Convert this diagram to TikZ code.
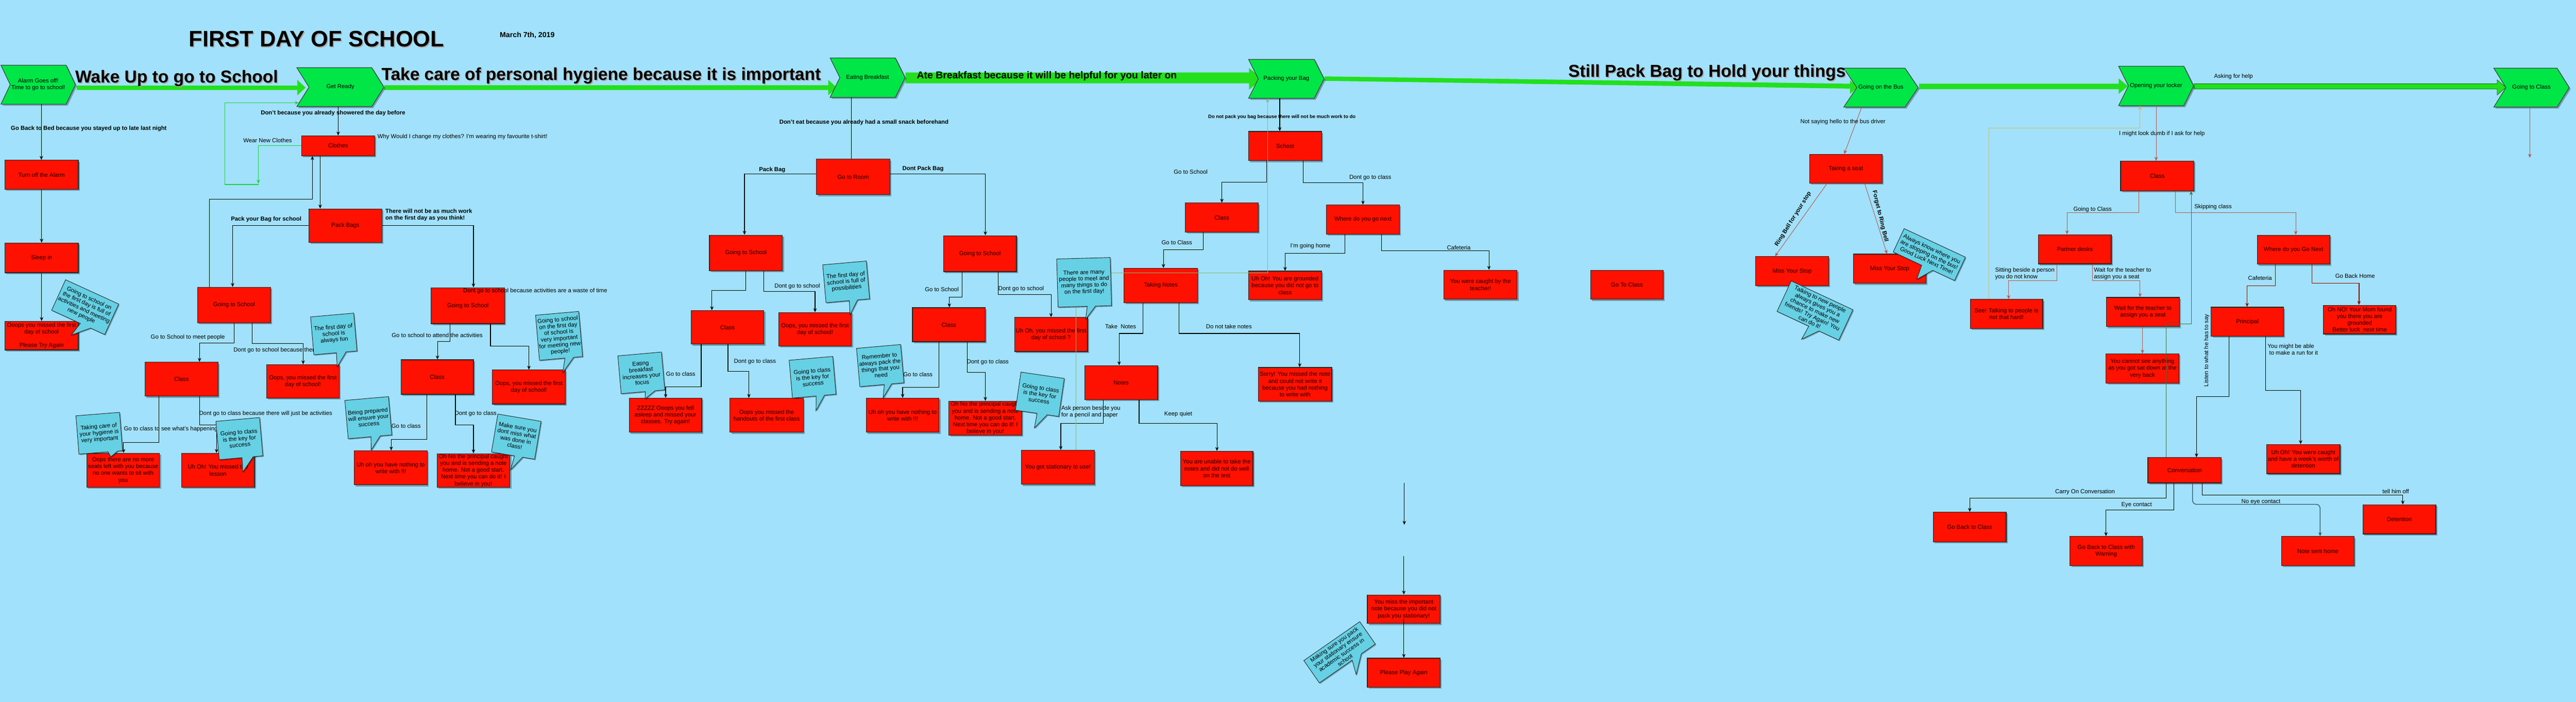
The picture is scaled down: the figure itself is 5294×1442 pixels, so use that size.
\documentclass[tikz,border=0pt]{standalone}
\usepackage{fontspec}
\setmainfont{Liberation Sans}
\usetikzlibrary{arrows.meta,shadows}
\definecolor{bg}{RGB}{161,225,251}
\definecolor{boxred}{RGB}{255,17,0}
\definecolor{boxtext}{RGB}{40,0,0}
\definecolor{chevgreen}{RGB}{0,230,70}
\definecolor{bargreen}{RGB}{34,224,30}
\definecolor{bubcyan}{RGB}{102,208,228}
\definecolor{brownln}{RGB}{184,84,80}
\definecolor{darkredln}{RGB}{153,0,0}
\definecolor{dkgreenln}{RGB}{70,110,70}
\definecolor{yellowln}{RGB}{214,182,86}
\definecolor{lgreenln}{RGB}{140,185,110}
\definecolor{loopgreen}{RGB}{30,210,60}
\definecolor{slateln}{RGB}{45,85,100}
\tikzset{
 rbox/.style={draw=black!85, line width=1.3pt, fill=boxred, inner sep=1pt, align=center, text=boxtext,
   font=\fontsize{12}{14}\selectfont, drop shadow={shadow xshift=3pt, shadow yshift=-3pt, opacity=0.3, fill=black}},
 chevst/.style={draw=black!75, line width=1.3pt, fill=chevgreen, drop shadow={shadow xshift=3pt, shadow yshift=-3pt, opacity=0.3, fill=black}},
 chevtext/.style={inner sep=0pt, align=center, font=\fontsize{12}{13.5}\selectfont},
 bubst/.style={draw=black!85, line width=1pt, fill=bubcyan, drop shadow={shadow xshift=2pt, shadow yshift=-2pt, opacity=0.3, fill=black}},
 bubtext/.style={inner sep=0pt, align=center, font=\fontsize{12}{13}\selectfont},
 lbl/.style={inner sep=0pt, align=center, font=\fontsize{12}{14}\selectfont},
 llbl/.style={inner sep=0pt, align=left, font=\fontsize{12}{14}\selectfont},
 blbl/.style={inner sep=0pt, align=center, font=\bfseries\fontsize{12}{14}\selectfont},
 head/.style={inner sep=0pt, anchor=base, font=\bfseries\fontsize{35.5}{40}\selectfont},
 bar/.style={fill=bargreen},
 ln/.style={draw=black, line width=1.2pt},
 arr/.style={ln, -{Stealth[length=8pt,width=7pt]}},
 brarr/.style={arr, draw=brownln, line width=1pt},
 drarr/.style={arr, draw=darkredln, line width=1.5pt},
 garr/.style={arr, draw=loopgreen, line width=1.2pt},
 lgarr/.style={arr, draw=lgreenln, line width=1pt},
 ygarr/.style={arr, draw=yellowln, line width=1pt},
 dgarr/.style={arr, draw=dkgreenln, line width=1pt},
 slarr/.style={arr, draw=slateln, line width=1.4pt, rounded corners=8pt},
}
\newcommand\rb[6]{%
 \pgfmathsetmacro\rbw{#4-#2}\pgfmathsetmacro\rbh{#5-#3}%
 \pgfmathsetmacro\rbx{(#2+#4)/2}\pgfmathsetmacro\rby{(#3+#5)/2}%
 \node[rbox, minimum width=\rbw pt, minimum height=\rbh pt] (#1) at (\rbx,\rby) {#6};}
\newcommand\chev[7]{%
 \pgfmathsetmacro\chxm{(#2+#4)/2}\pgfmathsetmacro\chym{(#3+#5)/2}%
 \pgfmathsetmacro\chw{#4-#2}\pgfmathsetmacro\chh{#5-#3}%
 \pgfmathsetmacro\chA{#4-#6}\pgfmathsetmacro\chB{#2+#6}%
 \filldraw[chevst] (#2,#3) -- (\chA,#3) -- (#4,\chym) -- (\chA,#5) -- (#2,#5) -- (\chB,\chym) -- cycle;
 \node[chevtext, minimum width=\chw pt, minimum height=\chh pt] (#1) at (\chxm,\chym) {#7};}
\newcommand\bub[9]{%
 \pgfmathsetmacro\bubW{#4/2}\pgfmathsetmacro\bubH{#5/2}%
 \begin{scope}[shift={(#2)},rotate=#3]
  \filldraw[bubst] (-\bubW,-\bubH) -- (\bubW,-\bubH) -- (\bubW,\bubH) -- (#7,\bubH) -- (#8) -- (#6,\bubH) -- (-\bubW,\bubH) -- cycle;
  \node[bubtext, rotate=#3] (#1) at (0,0) {#9};
 \end{scope}}
\begin{document}
\begin{tikzpicture}[x=1pt,y=-1pt]
\useasboundingbox (0,0) rectangle (5294,1442);
\fill[bg] (0,0) rectangle (5294,1442);
% ---------- green bars ----------
\fill[bar] (158,176) -- (611,176) -- (611,164) -- (628,180) -- (611,196) -- (611,185) -- (158,185) -- cycle;
\fill[bar] (790,175) -- (1702,175) -- (1702,164) -- (1720,180) -- (1702,196) -- (1702,185) -- (790,185) -- cycle;
\fill[bar] (1861,149) -- (2567,149) -- (2567,140) -- (2595,162) -- (2567,184) -- (2567,171) -- (1861,171) -- cycle;
\fill[bar] (2722,157) -- (3802,172) -- (3802,165) -- (3818,179) -- (3802,193) -- (3802,182) -- (2722,166) -- cycle;
\fill[bar] (3944,172) -- (4354,172) -- (4354,161) -- (4373,177) -- (4354,193) -- (4354,183) -- (3944,183) -- cycle;
\filldraw[bar, draw=green!45!black, line width=0.8pt] (4509,172) -- (5132,172) -- (5132,164) -- (5150,179.5) -- (5132,195) -- (5132,183) -- (4509,183) -- cycle;
% ---------- chevrons ----------
\chev{alarm}{2}{134}{155}{214}{19}{Alarm Goes off!\\Time to go to school!}
\chev{getready}{610}{139}{789}{219}{25}{Get Ready}
\chev{eat}{1706}{119}{1860}{200}{20}{Eating Breakfast}
\chev{packing}{2566}{122}{2721}{202}{20}{Packing your Bag}
\chev{bus}{3789}{140}{3942}{220}{27}{Going on the Bus}
\chev{locker}{4354}{136}{4508}{217}{20}{Opening your locker}
\chev{gotoclassc}{5125}{140}{5280}{220}{25}{Going to Class}
% ---------- headings ----------
\node[head, font=\bfseries\fontsize{46}{50}\selectfont, text=black!35] (h0s) at (652.5,98) {FIRST DAY OF SCHOOL};
\node[head, font=\bfseries\fontsize{46}{50}\selectfont] (h0) at (650.5,96) {FIRST DAY OF SCHOOL};
\node[head, text=black!35] (h1s) at (365,172) {Wake Up to go to School};
\node[head] (h1) at (363,170) {Wake Up to go to School};
\node[head, text=black!35] (h2s) at (1237.5,167) {Take care of personal hygiene because it is important};
\node[head] (h2) at (1235.5,165) {Take care of personal hygiene because it is important};
\node[head, font=\bfseries\fontsize{20.5}{24}\selectfont] (h3) at (2151.5,161) {Ate Breakfast because it will be helpful for you later on};
\node[head, text=black!35] (h4s) at (3510,160) {Still Pack Bag to Hold your things};
\node[head] (h4) at (3508,158) {Still Pack Bag to Hold your things};
% ---------- red boxes ----------
\rb{alarmoff}{10}{329}{161}{389}{Turn off the Alarm}
\rb{sleep}{10}{499}{161}{560}{Sleep in}
\rb{missedz}{10}{660}{161}{719}{Ooops you missed the first\\day of school\\[14pt]Please Try Again}
\rb{clothes}{620}{279}{770}{320}{Clothes}
\rb{packbags}{635}{429}{785}{498}{Pack Bags}
\rb{gsa}{406}{590}{556}{663}{Going to School}
\rb{classa}{298}{744}{448}{814}{Class}
\rb{misseda}{548}{749}{697}{818}{Oops, you missed the first\\day of school!}
\rb{noseats}{178}{931}{328}{1001}{Oops there are no more\\seats left with you because\\no one wants to sit with\\you}
\rb{lesson}{373}{931}{523}{1001}{Uh Oh! You missed the\\lesson}
\rb{gsb}{886}{591}{1037}{665}{Going to School}
\rb{classb}{824}{739}{973}{810}{Class}
\rb{missedb}{1012}{760}{1162}{830}{Oops, you missed the first\\day of school!}
\rb{nowritea}{728}{926}{878}{996}{Uh oh you have nothing to\\write with !!!}
\rb{principala}{898}{932}{1048}{1001}{Oh No the principal caught\\you and is sending a note\\home. Not a good start.\\Next time you can do it! I\\believe in you!}
\rb{goroom}{1678}{327}{1829}{400}{Go to Room}
\rb{gsc}{1458}{483}{1608}{556}{Going to School}
\rb{classc}{1420}{638}{1570}{707}{Class}
\rb{missedc}{1600}{642}{1750}{711}{Oops, you missed the first\\day of school!}
\rb{zzz}{1293}{818}{1442}{888}{ZZZZZ Ooops you fell\\asleep and missed your\\classes. Try again!}
\rb{handouts}{1500}{818}{1651}{888}{Oops you missed the\\handouts of the first class}
\rb{gsd}{1939}{484}{2089}{558}{Going to School}
\rb{classd}{1875}{632}{2025}{702}{Class}
\rb{missedd}{2085}{652}{2235}{722}{Uh Oh, you missed the first\\day of school ?}
\rb{nowriteb}{1780}{818}{1930}{888}{Uh oh you have nothing to\\write with !!!}
\rb{principalb}{1950}{824}{2100}{894}{Oh No the principal caught\\you and is sending a note\\home. Not a good start.\\Next time you can do it! I\\believe in you!}
\rb{takingnotes}{2310}{551}{2461}{622}{Taking Notes}
\rb{classe}{2436}{417}{2586}{477}{Class}
\rb{notes}{2229}{751}{2379}{821}{Notes}
\rb{stationary}{2099}{925}{2249}{995}{You got stationary to use!}
\rb{unable}{2426}{927}{2575}{998}{You are unable to take the\\notes and did not do well\\on the test}
\rb{sorry}{2586}{755}{2737}{824}{Sorry! You missed the note\\and could not write it\\because you had nothing\\to write with}
\rb{school}{2566}{270}{2716}{330}{School}
\rb{wherenexta}{2726}{421}{2876}{481}{Where do you go next}
\rb{groundeda}{2566}{557}{2716}{616}{Uh Oh! You are grounded\\because you did not go to\\class}
\rb{caughta}{2967}{555}{3118}{615}{You were caught by the\\teacher!}
\rb{gotoclassbox}{3269}{555}{3418}{615}{Go To Class}
\rb{missnote}{2810}{1222}{2960}{1281}{You miss the important\\note because you did not\\pack you stationary!}
\rb{playagain}{2810}{1352}{2960}{1412}{Please Play Again}
\rb{seat}{3719}{317}{3868}{376}{Taking a seat}
\rb{missstopa}{3608}{527}{3758}{587}{Miss Your Stop}
\rb{missstopb}{3809}{522}{3958}{582}{Miss Your Stop}
\rb{seetalk}{4049}{615}{4198}{675}{See! Talking to people is\\not that hard!}
\rb{partner}{4189}{482}{4339}{542}{Partner desks}
\rb{classf}{4358}{331}{4509}{392}{Class}
\rb{wherenextb}{4639}{483}{4788}{543}{Where do you Go Next}
\rb{wait}{4329}{611}{4479}{671}{Wait for the teacher to\\assign you a seat}
\rb{cannotsee}{4328}{727}{4478}{787}{You cannot see anything\\as you got sat down at the\\very back}
\rb{principal}{4544}{631}{4693}{691}{Principal}
\rb{mom}{4775}{627}{4924}{686}{Oh NO! Your Mom found\\you there you are\\grounded\\Better luck\ \ next time}
\rb{conv}{4414}{940}{4565}{992}{Conversation}
\rb{detentiona}{4658}{913}{4809}{973}{Uh Oh! You were caught\\and have a week's worth of\\detention}
\rb{backclass}{3973}{1052}{4123}{1113}{Go Back to Class}
\rb{warning}{4254}{1102}{4403}{1162}{Go Back to Class with\\Warning}
\rb{notehome}{4689}{1102}{4838}{1162}{Note sent home}
\rb{detention}{4856}{1037}{5006}{1097}{Detention}
% ---------- connectors ----------
\draw[arr] (85,0 |- alarm.south) -- (85,0 |- alarmoff.north);
\draw[arr] (alarmoff.south) -- (sleep.north);
\draw[arr] (sleep.south) -- (missedz.north);
\draw[arr] (clothes.north |- getready.south) -- (clothes.north);
\draw[garr] (clothes.west) -| (531,377);
\coordinate (wnc) at (531,379);
\draw[garr] (wnc) -- (462,379) |- ([xshift=4pt,yshift=8pt]getready.south west);
\draw[arr] (658,0 |- clothes.south) -- (658,0 |- packbags.north);
\draw[arr] (430,0 |- gsa.north) |- (642,409) -- (642,0 |- clothes.south);
\draw[arr] (packbags.west) -| (478,0 |- gsa.north);
\draw[arr] (packbags.east) -| (973,0 |- gsb.north);
\draw[arr] (481,0 |- gsa.south) |- (410,705) -- (410,0 |- classa.north);
\draw[arr] (518,0 |- gsa.south) |- (623,706) -- (623,0 |- misseda.north);
\draw[arr] (410,0 |- classa.south) |- (445,873) -- (445,0 |- lesson.north);
\draw[arr] (327,0 |- classa.south) |- (254,909) -- (254,0 |- noseats.north);
\draw[arr] (925,0 |- gsb.south) |- (899,701) -- (899,0 |- classb.north);
\draw[arr] (1008,0 |- gsb.south) |- (1087,711) -- (1087,0 |- missedb.north);
\draw[arr] (936,0 |- classb.south) |- (973,873) -- (973,0 |- principala.north);
\draw[arr] (877,0 |- classb.south) |- (804,903) -- (804,0 |- nowritea.north);
\draw[ln] (1750,0 |- eat.south) -- (1750,0 |- goroom.north);
\draw[arr] (goroom.west |- 0,357) -| (1530,0 |- gsc.north);
\draw[arr] (goroom.east |- 0,357) -| (2025,0 |- gsd.north);
\draw[arr] (1533,0 |- gsc.south) |- (1463,597) -- (1463,0 |- classc.north);
\draw[arr] (1570,0 |- gsc.south) |- (1675,599) -- (1675,0 |- missedc.north);
\draw[arr] (1441,0 |- classc.south) |- (1368,795) -- (1368,0 |- zzz.north);
\draw[arr] (1496,0 |- classc.south) |- (1539,763) -- (1539,0 |- handouts.north);
\draw[arr] (1977,0 |- gsd.south) |- (1951,610) -- (1951,0 |- classd.north);
\draw[arr] (2051,0 |- gsd.south) |- (2160,605) -- (2160,0 |- missedd.north);
\draw[arr] (1930,0 |- classd.south) |- (1855,796) -- (1855,0 |- nowriteb.north);
\draw[arr] (1988,0 |- classd.south) |- (2025,765) -- (2025,0 |- principalb.north);
\draw[arr] (2630,0 |- packing.south) -- (2630,0 |- school.north);
\draw[arr] (2603,0 |- school.south) |- (2511,374) -- (2511,0 |- classe.north);
\draw[arr] (2473,0 |- classe.south) |- (2391,513) -- (2391,0 |- takingnotes.north);
\draw[arr] (2349,0 |- takingnotes.south) |- (2300,685) -- (2300,0 |- notes.north);
\draw[arr] (2423,0 |- takingnotes.south) |- (2671,685) -- (2671,0 |- sorry.north);
\draw[arr] (2267,0 |- notes.south) |- (2180,870) -- (2180,0 |- stationary.north);
\draw[arr] (2341,0 |- notes.south) |- (2501,870) -- (2501,0 |- unable.north);
\draw[lgarr] (2211,0 |- stationary.north) |- (2605,561) -- (2605,0 |- packing.south);
\draw[arr] (2678,0 |- school.south) |- (2801,375) -- (2801,0 |- wherenexta.north);
\draw[arr] (2764,0 |- wherenexta.south) |- (2641,520) -- (2641,0 |- groundeda.north);
\draw[arr] (2839,0 |- wherenexta.south) |- (3060,515) -- (3060,0 |- caughta.north);
\coordinate (fra) at (2886,992); \coordinate (frb) at (2886,1078);
\draw[arr] (fra) -- (frb);
\coordinate (frc) at (2885,1142);
\draw[arr] (frc) -- (missnote.north);
\draw[arr] ([yshift=-20pt]missnote.center) -- (playagain.north);
\draw[brarr] (3826,0 |- bus.south) -- (3790,0 |- seat.north);
\draw[brarr] (3755,0 |- seat.south) -- (3648,0 |- missstopa.north);
\draw[brarr] (3832,0 |- seat.south) -- (3878,0 |- missstopb.north);
\draw[ygarr] (4087,0 |- seetalk.north) |- (4398,263) -- (4398,0 |- locker.south);
\draw[brarr] (4431,0 |- locker.south) -- (4431,0 |- classf.north);
\draw[brarr] (4396,0 |- classf.south) |- (4248,437) -- (4248,0 |- partner.north);
\draw[brarr] (4471,0 |- classf.south) |- (4718,437) -- (4718,0 |- wherenextb.north);
\draw[brarr] (4227,0 |- partner.south) |- (4128,577) -- (4128,0 |- seetalk.north);
\draw[brarr] (4300,0 |- partner.south) |- (4398,577) -- (4398,0 |- wait.north);
\draw[brarr] (4403,0 |- wait.south) -- (4403,0 |- cannotsee.north);
\draw[dgarr] (4452,0 |- conv.north) |- (4503,665) -- (4503,0 |- classf.south);
\draw[drarr] (4676,0 |- wherenextb.south) |- (4618,587) -- (4618,0 |- principal.north);
\draw[drarr] (4751,0 |- wherenextb.south) |- (4848,582) -- (4848,0 |- mom.north);
\draw[arr] (4581,0 |- principal.south) |- (4514,815) -- (4514,0 |- conv.north);
\draw[arr] (4656,0 |- principal.south) |- (4728,802) -- (4728,0 |- detentiona.north);
\draw[arr] (4452,0 |- conv.south) |- (4048,1023) -- (4048,0 |- backclass.north);
\draw[arr] (4468,0 |- conv.south) |- (4328,1048) -- (4328,0 |- warning.north);
\draw[arr] (4526,0 |- conv.south) |- (4938,1017) -- (4938,0 |- detention.north);
\draw[slarr] (4506,0 |- conv.south) |- (4768,1036) -- (4768,0 |- notehome.north);
\coordinate (frd) at (5199,324);
\draw[brarr] (5199,0 |- gotoclassc.south) -- (frd);
% ---------- labels ----------
\node[blbl] (l1) at (182.5,264) {Go Back to Bed because you stayed up to late last night};
\node[blbl] (l2) at (684.5,232) {Don't because you already showered the day before};
\node[lbl] (l3) at (550,288) {Wear New Clothes};
\node[lbl] (l4) at (950.5,281) {Why Would I change my clothes? I'm wearing my favourite t-shirt!};
\node[blbl] (l5) at (547,451) {Pack your Bag for school};
\node[blbl, align=left, anchor=west] (l6) at (792,442) {There will not be as much work\\on the first day as you think!};
\node[lbl] (l7) at (386,693) {Go to School to meet people};
\node[lbl] (l8) at (595,720) {Dont go to school because there is no work};
\node[lbl] (l9) at (546,850) {Dont go to class because there will just be activities};
\node[lbl] (l10) at (351,882) {Go to class to see what's happening};
\node[lbl] (l11) at (834.5,875) {Go to class};
\node[lbl] (l12) at (898.5,689) {Go to school to attend the activities};
\node[lbl] (l13) at (1100,598) {Dont go to school because activities are a waste of time};
\node[lbl] (l14) at (977.5,850) {Dont go to class};
\node[blbl, font=\bfseries\fontsize{15}{18}\selectfont, anchor=base] (l15) at (1083.5,77) {March 7th, 2019};
\node[blbl] (l16) at (1775.5,252) {Don't eat because you already had a small snack beforehand};
\node[blbl] (l17) at (1587,349) {Pack Bag};
\node[blbl] (l18) at (1897,347) {Dont Pack Bag};
\node[lbl] (l19) at (1638.5,588) {Dont go to school};
\node[lbl] (l20) at (1399,768) {Go to class};
\node[lbl] (l21) at (1551.5,743) {Dont go to class};
\node[lbl] (l22) at (1935.5,594) {Go to School};
\node[lbl] (l23) at (2098.5,594) {Dont go to school};
\node[lbl] (l24) at (1886.5,769) {Go to class};
\node[lbl] (l25) at (2030,744) {Dont go to class};
\node[lbl] (l26) at (2447,353) {Go to School};
\node[lbl] (l27) at (2418.5,498) {Go to Class};
\node[lbl] (l28) at (2303,671) {Take\ \ Notes};
\node[lbl] (l29) at (2525.5,671) {Do not take notes};
\node[llbl, anchor=west] (l30) at (2181,846) {Ask person beside you\\for a pencil and paper};
\node[lbl] (l31) at (2421.5,851) {Keep quiet};
\node[blbl, font=\bfseries\fontsize{10}{12}\selectfont] (l32) at (2634.5,240) {Do not pack you bag because there will not be much work to do};
\node[lbl] (l33) at (2816,365) {Dont go to class};
\node[lbl] (l34) at (2693,506) {I'm going home};
\node[lbl] (l35) at (2998,509) {Cafeteria};
\node[lbl] (l36) at (3787.5,250) {Not saying hello to the bus driver};
\node[blbl, rotate=58] (l37) at (3685,450) {Ring Bell for your stop};
\node[blbl, rotate=-76.5] (l38) at (3864,444) {Forget to Ring Bell};
\node[lbl] (l39) at (4300.5,431) {Going to Class};
\node[llbl, anchor=west] (l40) at (4100,562) {Sitting beside a person\\you do not know};
\node[llbl, anchor=west] (l41) at (4303,562.5) {Wait for the teacher to\\assign you a seat};
\node[lbl] (l42) at (4590,157) {Asking for help};
\node[lbl] (l43) at (4443,275) {I might look dumb if I ask for help};
\node[lbl] (l44) at (4548,425) {Skipping class};
\node[lbl] (l45) at (4644.5,571) {Cafeteria};
\node[lbl] (l46) at (4840,567) {Go Back Home};
\node[lbl, rotate=90] (l47) at (4535,720) {Listen to what he has to say};
\node[llbl, anchor=west] (l48) at (4660,718) {You might be able\\\ to make a run for it};
\node[lbl] (l49) at (4285,1011) {Carry On Conversation};
\node[lbl] (l50) at (4391,1037) {Eye contact};
\node[lbl] (l51) at (4923.5,1010) {tell him off};
\node[lbl] (l52) at (4646.5,1031) {No eye contact};
% ---------- speech bubbles ----------
\bub{bA}{175,631}{-24.6}{120}{69}{5}{28}{-2,64}{Going to school on\\the first day is full of\\activities and meeting\\new people}
\bub{bB}{686,686}{5}{89}{78}{2}{22}{1,68}{The first day of\\school is\\always fun}
\bub{bC}{204,890}{4.5}{90}{79}{15}{35}{20,50}{Taking care of\\your hygiene is\\very important}
\bub{bD}{492,901}{5}{90}{79}{2}{25}{1,69}{Going to class\\is the key for\\success}
\bub{bE}{757,858}{5}{90}{79}{2}{21}{0,67}{Being prepared\\will ensure your\\success}
\bub{bF}{1739,579}{5}{90}{78}{3}{20}{2,68}{The first day of\\school is full of\\possibilities}
\bub{bG}{1149,690}{5}{89}{93}{8}{26}{1,76}{Going to school\\on the first day\\of school is\\very important\\for meeting new\\people!}
\bub{bH}{1061,897}{-9.6}{90}{79}{3}{20}{0,69}{Make sure you\\dont miss what\\was done in\\class!}
\bub{bI}{1318,766}{5}{90}{78}{5}{25}{3,54}{Eating\\breakfast\\increases your\\focus}
\bub{bJ}{1670,775}{5}{90}{78}{4}{21}{1,69}{Going to class\\is the key for\\success}
\bub{bK}{1809,751}{5}{91}{79}{5}{20}{0,67}{Remember to\\always pack the\\things that you\\need}
\bub{bL}{2228,580}{1.6}{110}{99}{5}{22}{1,76}{There are many\\people to meet and\\many things to do\\on the first day!}
\bub{bM}{2137,810}{-8.3}{90}{79}{0}{21}{-1,70}{Going to class\\is the key for\\success}
\bub{bN}{2753,1340}{34.8}{140}{56}{12}{35}{2,57}{Making sure you pack\\your stationary ensure\\academic success in\\school}
\bub{bO}{3965,523}{-25}{139}{53}{-5}{20}{-2,57}{Always know where you\\are stopping on the bus!\\Good Luck Next Time!}
\bub{bP}{3730,638}{-25}{140}{69}{2}{25}{0,65}{Talking to new people\\always gives you a\\chance to make new\\friends! Try Again! You\\can do it!}
\end{tikzpicture}
\end{document}
